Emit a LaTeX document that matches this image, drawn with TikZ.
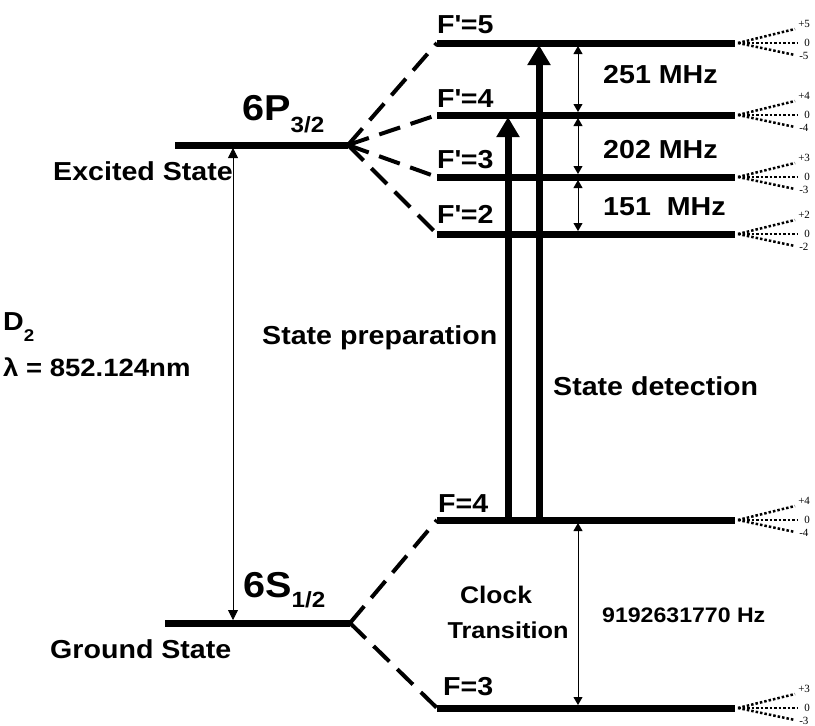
\documentclass[tikz,border=0pt]{standalone}
\usepackage{fontspec}
\setmainfont{Liberation Sans}[FakeStretch=1.1]
\newfontfamily\mfont{Liberation Serif}
\usetikzlibrary{arrows.meta}

\begin{document}
\begin{tikzpicture}[
    x=1pt, y=-1pt,
    lvl/.style={line width=7pt},
    splitline/.style={line width=4pt, dash pattern=on 22pt off 11pt},
    hfgap/.style={line width=0.8pt, {Triangle[length=8pt,width=9pt]}-{Triangle[length=8pt,width=9pt]},
                  shorten <=3pt, shorten >=3pt},
    laser/.style={line width=7pt, -{Triangle[length=20pt,width=22pt]}},
    sublevel/.style={line width=2.5pt, dash pattern=on 2.5pt off 2pt},
    lbl/.style={font=\fontsize{26}{28}\selectfont\bfseries, inner sep=0pt, anchor=base west},
    mlbl/.style={font=\mfont\fontsize{11}{11}\selectfont, inner sep=0pt},
  ]

  \useasboundingbox (0,0) rectangle (815,726);

  % ---- fine structure ---------------------------------------------------
  \coordinate (P-l) at (175,145);  \coordinate (P-r) at (348,145);   % 6P 3/2
  \coordinate (S-l) at (165,623);  \coordinate (S-r) at (350,623);   % 6S 1/2
  \draw[lvl] (P-l) -- (P-r);
  \draw[lvl] (S-l) -- (S-r);

  % ---- hyperfine levels -------------------------------------------------
  \coordinate (e5-l) at (437,43);   \coordinate (e5-r) at (735,43);
  \coordinate (e4-l) at (437,115);  \coordinate (e4-r) at (735,115);
  \coordinate (e3-l) at (437,177);  \coordinate (e3-r) at (735,177);
  \coordinate (e2-l) at (437,234);  \coordinate (e2-r) at (735,234);
  \coordinate (g4-l) at (437,520);  \coordinate (g4-r) at (735,520);
  \coordinate (g3-l) at (437,708);  \coordinate (g3-r) at (735,708);
  \draw[lvl] (e5-l) -- (e5-r);
  \draw[lvl] (e4-l) -- (e4-r);
  \draw[lvl] (e3-l) -- (e3-r);
  \draw[lvl] (e2-l) -- (e2-r);
  \draw[lvl] (g4-l) -- (g4-r);
  \draw[lvl] (g3-l) -- (g3-r);

  % ---- dashed splitting -------------------------------------------------
  \draw[splitline] (P-r) -- (e5-l);
  \draw[splitline] (P-r) -- (e4-l);
  \draw[splitline] (P-r) -- (e3-l);
  \draw[splitline] (P-r) -- (e2-l);
  \draw[splitline] (S-r) -- (g4-l);
  \draw[splitline] (S-r) -- (g3-l);

  % ---- Zeeman sublevels (dotted fans) -----------------------------------
  \foreach \y/\f in {43/5, 115/4, 177/3, 234/2, 520/4, 708/3} {
    \coordinate (fan) at (738,\y);
    \draw[sublevel] (fan) -- ++(57,-14) node[mlbl, anchor=south west, xshift=2pt] (mp\y) {+\f};
    \draw[sublevel] (fan) -- ++(60,0)   node[mlbl, anchor=west, xshift=5pt] (mz\y) {0};
    \draw[sublevel] (fan) -- ++(57,12)  node[mlbl, anchor=west, xshift=3pt, yshift=-1pt] (mm\y) {-\f};
  }

  % ---- transitions ------------------------------------------------------
  \coordinate (d2-top) at (233,145);  \coordinate (d2-bot) at (233,623);
  \draw[hfgap, {Triangle[length=10pt,width=10pt]}-{Triangle[length=10pt,width=10pt]}]
       (d2-top) -- (d2-bot);
  % state preparation  F=4 -> F'=4
  \coordinate (prep-a) at (508,520);  \coordinate (prep-b) at (508,117);
  \draw[laser] (prep-a) -- (prep-b);
  % state detection  F=4 -> F'=5
  \coordinate (det-a) at (539,520);   \coordinate (det-b) at (539,45);
  \draw[laser] (det-a) -- (det-b);

  % ---- splittings -------------------------------------------------------
  \draw[hfgap] (578,0 |- e5-l) -- (578,0 |- e4-l);
  \draw[hfgap] (578,0 |- e4-l) -- (578,0 |- e3-l);
  \draw[hfgap] (578,0 |- e3-l) -- (578,0 |- e2-l);
  \draw[hfgap] (578,0 |- g4-l) -- (578,0 |- g3-l);

  % ---- labels -----------------------------------------------------------
  \node[lbl] (excited) at (53,180) {Excited State};
  \node[lbl] (ground)  at (50,658) {Ground State};
  \node[lbl] (p32) at (242,120)
       {{\fontsize{36}{36}\selectfont 6P}\raisebox{-12pt}{\fontsize{22}{22}\selectfont 3/2}};
  \node[lbl] (s12) at (243,597)
       {{\fontsize{36}{36}\selectfont 6S}\raisebox{-10pt}{\fontsize{22}{22}\selectfont 1/2}};
  \node[lbl] (d2) at (3,330) {D\raisebox{-11pt}{\fontsize{17}{17}\selectfont 2}};
  \node[lbl, font=\fontsize{25}{27}\selectfont\bfseries] (lambda) at (3,376) {λ = 852.124nm};

  \node[lbl] (f5) at (437,33)  {F\textquotesingle=5};
  \node[lbl] (f4) at (437,107) {F\textquotesingle=4};
  \node[lbl] (f3) at (437,168) {F\textquotesingle=3};
  \node[lbl] (f2) at (437,223) {F\textquotesingle=2};
  \node[lbl] (g4) at (438,512) {F=4};
  \node[lbl] (g3) at (443,695) {F=3};

  \node[lbl] (prep) at (262,344) {State preparation};
  \node[lbl] (det)  at (553,395) {State detection};

  \node[lbl] (hf54) at (603,83)  {251 MHz};
  \node[lbl] (hf43) at (603,158) {202 MHz};
  \node[lbl] (hf32) at (603,215) {151\ \ MHz};
  \node[lbl, font=\fontsize{21}{23}\selectfont\bfseries] (clk) at (602,622) {9192631770 Hz};

  \node[lbl, font=\fontsize{24}{26}\selectfont\bfseries, anchor=base] (clock) at (496,603) {Clock};
  \node[lbl, font=\fontsize{23}{25}\selectfont\bfseries, anchor=base] (trans) at (508,638) {Transition};

\end{tikzpicture}
\end{document}
